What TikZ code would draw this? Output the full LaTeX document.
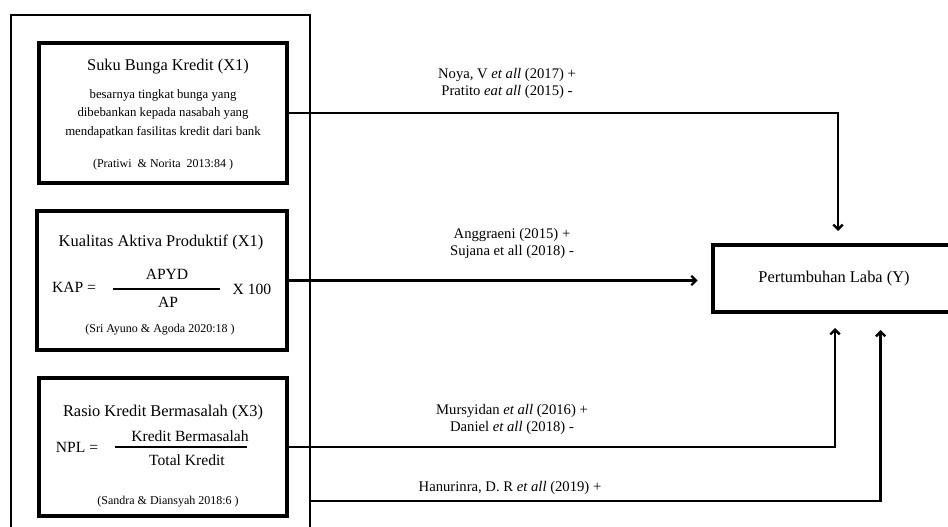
\documentclass[tikz,border=0pt]{standalone}
\usepackage{fontspec}
\setmainfont{Liberation Serif}
\usetikzlibrary{arrows.meta}
\begin{document}
\begin{tikzpicture}[x=0.75pt,y=-0.75pt,
  varbox/.style={draw,line width=3pt,minimum width=186pt,minimum height=104pt,inner sep=0pt},
  outerbox/.style={draw,line width=1.3pt,minimum width=224.25pt,minimum height=393.75pt,inner sep=0pt},
  ybox/.style={draw,line width=3pt,minimum width=181.5pt,minimum height=50.25pt,inner sep=0pt},
  conn/.style={line width=1.8pt,-{Straight Barb[length=3.5pt,width=7pt]}},
  ttl/.style={font=\fontsize{12.3}{14}\selectfont,inner sep=0pt},
  frm/.style={font=\fontsize{11.7}{14}\selectfont,inner sep=0pt},
  body/.style={font=\fontsize{9.6}{13.9}\selectfont,align=center,inner sep=0pt},
  cite/.style={font=\fontsize{9}{10}\selectfont,inner sep=0pt},
  lbl/.style={font=\fontsize{11}{12.75}\selectfont,align=center,inner sep=0pt},
  fbar/.style={line width=1.5pt}]
\clip (0,0) rectangle (948,527);
\fill[white] (0,0) rectangle (948,527);
% outer container
\node[outerbox] (outer) at (160.5,277.5) {};
% box 1
\node[varbox,minimum height=105pt] (b1) at (163,113) {};
\node[ttl] (t1) at (168,67) {Suku Bunga Kredit (X1)};
\node[body] (d1) at (163,113.5) {besarnya tingkat bunga yang\\dibebankan kepada nasabah yang\\mendapatkan fasilitas kredit dari bank};
\node[cite] (c1) at (163,165) {(Pratiwi\ \ \& Norita\ \ 2013:84 )};
% box 2
\node[varbox,minimum width=187.5pt,minimum height=104.25pt] (b2) at (162,280.5) {};
\node[ttl] (t2) at (161,242) {Kualitas Aktiva Produktif (X1)};
\node[frm] (k2) at (74,287) {KAP =};
\node[frm] (n2) at (167,274) {APYD};
\node[frm] (m2) at (168,302) {AP};
\node[frm] (x2) at (252,289) {X 100};
\draw[fbar] (113,289) -- (220,289);
\node[cite] (c2) at (160,330) {(Sri Ayuno \& Agoda 2020:18 )};
% box 3
\node[varbox,minimum height=103.5pt] (b3) at (163,447) {};
\node[ttl] (t3) at (163,413) {Rasio Kredit Bermasalah (X3)};
\node[frm] (k3) at (77,447) {NPL =};
\node[frm] (n3) at (190,436) {Kredit Bermasalah};
\node[frm] (m3) at (187,460) {Total Kredit};
\draw[fbar] (115,447) -- (247,447);
\node[cite] (c3) at (168,502) {(Sandra \& Diansyah 2018:6 )};
% dependent
\node[ybox] (Y) at (834,278.5) {};
\node[font=\fontsize{12.3}{14}\selectfont,inner sep=0pt] (yt) at (834,279) {Pertumbuhan Laba (Y)};
% labels
\node[lbl] (l1) at (507,83.5) {Noya, V \textit{et all} (2017) +\\Pratito \textit{eat all} (2015) -};
\node[lbl] (l2) at (512,243.5) {Anggraeni (2015) +\\Sujana et all (2018) -};
\node[lbl] (l3) at (512,419.5) {Mursyidan \textit{et all} (2016) +\\Daniel \textit{et all} (2018) -};
\node[lbl] (l4) at (510,488) {Hanurinra, D. R \textit{et all} (2019) +};
% connectors
\coordinate (o1) at (310,501);
\draw[conn,shorten >=9pt] (b1.east) -| ([xshift=3pt]Y.north);
\draw[conn,shorten >=10pt] (b2.east) -- (b2.east -| Y.west);
\draw[conn,shorten >=10.5pt] (b3.east) -| ([xshift=0.75pt]Y.south);
\draw[conn,shorten >=12pt] (o1) -| ([xshift=35pt]Y.south);
\end{tikzpicture}
\end{document}
